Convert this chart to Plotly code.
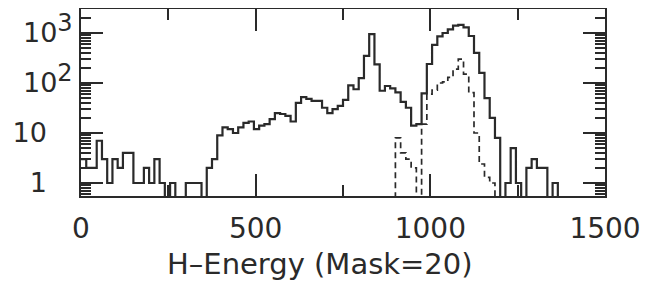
import plotly.graph_objects as go

# ---- data ----
bin_width = 15  # energy units per histogram bin
# total counts per bin, bins starting at energy 0
solid_counts = [3, 2, 2, 7, 3, 1, 3, 2, 4, 4,
                1, 1, 2, 1, 3, 1, 0, 1, 0, 0,
                1, 1, 1, 0, 2, 3, 9, 13, 12, 10,
                13, 16, 17, 12, 14, 15, 19, 25, 24, 22,
                17, 40, 52, 48, 44, 44, 32, 25, 30, 35,
                46, 90, 75, 125, 350, 950, 235, 70, 87, 78,
                65, 42, 32, 14, 15, 62, 240, 580, 860, 1000,
                1180, 1400, 1450, 1300, 870, 400, 160, 50, 20, 8,
                0, 1, 5, 1, 0, 2, 3, 2, 2, 0,
                1, 0]
# dashed component, starting at energy 885
dashed_start_energy = 885
dashed_counts = [0, 8, 4, 3, 2, 0, 15, 60, 72, 100,
                 105, 130, 190, 300, 150, 64, 10, 2.4, 1.3, 1, 0]

x_ticks = [0, 500, 1000, 1500]
x_minor = [250, 750, 1250]
y_ticks = [1, 10, 100, 1000]
NB = "\u00a0"
SUP = "<sup><span style='font-size:24px'>{}</span></sup>"
y_ticktext = ["1" + NB * 3, "10" + NB * 3, "10" + SUP.format(2), "10" + SUP.format(3)]
x_title = "H\u2013Energy (Mask=20)"

FLOOR = 1e-2  # zero counts drawn below the visible log range


def step_xy(start, counts):
    xs = [start + bin_width * i for i in range(len(counts) + 1)]
    ys = [c if c > 0 else FLOOR for c in counts]
    ys = ys + [ys[-1]]
    return xs, ys


sx, sy = step_xy(0, solid_counts)
dx, dy = step_xy(dashed_start_energy, dashed_counts)

ink = "#2a2a2a"
fig = go.Figure()
fig.add_trace(go.Scatter(x=sx, y=sy, mode="lines", line_shape="hv",
                         line=dict(color=ink, width=2.2), showlegend=False))
fig.add_trace(go.Scatter(x=dx, y=dy, mode="lines", line_shape="hv",
                         line=dict(color=ink, width=1.7, dash="6px,4px"),
                         showlegend=False))

y_minor = [k * 10 ** d for d in range(-1, 4) for k in range(2, 10)]

font_family = "DejaVu Sans"
# page body has an 8px default margin, so the figure is sized to fit the window
fig.update_layout(
    width=647, height=274,
    margin=dict(l=73, r=50, t=1, b=86),
    paper_bgcolor="white", plot_bgcolor="white",
    font=dict(family=font_family, color=ink),
    xaxis=dict(
        range=[0, 1500], tickvals=x_ticks, ticks="inside", ticklen=22, tickwidth=1.5,
        tickcolor=ink, showline=True, linecolor=ink, linewidth=2, mirror="ticks",
        showgrid=False, zeroline=False, automargin=False,
        tickfont=dict(size=28, family=font_family, color=ink),
        ticklabelstandoff=6,
        minor=dict(tickvals=x_minor, ticks="inside", ticklen=11, tickwidth=1.5,
                   tickcolor=ink, showgrid=False),
    ),
    yaxis=dict(
        type="log", range=[-0.26, 3.48], tickvals=y_ticks, ticktext=y_ticktext,
        ticks="inside", ticklen=22, tickwidth=1.5, tickcolor=ink,
        showline=True, linecolor=ink, linewidth=2, mirror="ticks",
        showgrid=False, zeroline=False, automargin=False,
        tickfont=dict(size=27, family=font_family, color=ink),
        ticklabelstandoff=1,
        minor=dict(tickvals=y_minor, ticks="inside", ticklen=10, tickwidth=1.5,
                   tickcolor=ink, showgrid=False),
    ),
    annotations=[dict(
        text=x_title, xref="paper", yref="paper", x=0.457, y=-0.366,
        xanchor="center", yanchor="middle", showarrow=False,
        font=dict(size=29, family=font_family, color=ink),
    )],
)

fig.write_html("out.html")
